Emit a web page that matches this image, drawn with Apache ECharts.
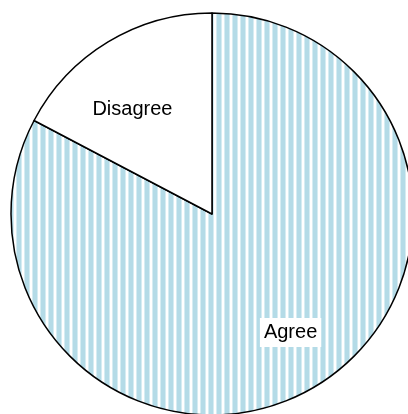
<!DOCTYPE html>
<html>
<head>
<meta charset="utf-8">
<script src="https://cdn.jsdelivr.net/npm/echarts@6/dist/echarts.min.js"></script>
<style>html,body{margin:0;padding:0;background:#fff}#c{width:408px;height:414px}</style>
</head>
<body>
<div id="c"></div>
<script>
const categories = ['Agree', 'Disagree'];
const values = [82.7, 17.3];

function stripePattern() {
  const c = document.createElement('canvas');
  c.width = 8; c.height = 4;
  const ctx = c.getContext('2d');
  ctx.fillStyle = '#ffffff';
  ctx.fillRect(0, 0, 8, 4);
  ctx.fillStyle = '#b4dbe7';
  ctx.fillRect(1, 0, 4, 4);
  ctx.fillStyle = '#d6ecf2';
  ctx.fillRect(0, 0, 1, 4);
  ctx.fillRect(5, 0, 1, 4);
  return c;
}
const pat = { image: stripePattern(), repeat: 'repeat' };
const fills = [pat, '#ffffff'];
const labelNudges = [[-2, 4], [1, 10]];

const data = categories.map((n, i) => ({ name: n, value: values[i], itemStyle: { color: fills[i] } }));
const labelData = categories.map((n, i) => ({ name: n, value: values[i], label: { offset: labelNudges[i] } }));

const chart = echarts.init(document.getElementById('c'), null, { renderer: 'canvas' });
chart.setOption({
  animation: false,
  series: [
    {
      type: 'pie',
      center: [212, 214],
      radius: [0, 201],
      startAngle: 90,
      clockwise: true,
      data: data,
      itemStyle: { borderColor: '#000', borderWidth: 1.5 },
      label: { show: false },
      labelLine: { show: false },
      emphasis: { disabled: true }
    },
    {
      type: 'pie',
      center: [212, 214],
      radius: [73, 201],
      startAngle: 94,
      clockwise: true,
      silent: true,
      data: labelData,
      itemStyle: { color: 'rgba(0,0,0,0)', borderWidth: 0 },
      label: {
        show: true, position: 'inside', formatter: '{b}',
        color: '#000', fontSize: 20, fontFamily: 'Liberation Sans, Arial, sans-serif',
        backgroundColor: '#fff', padding: [5, 4, 4, 4]
      },
      labelLine: { show: false },
      emphasis: { disabled: true }
    }
  ]
});
</script>
</body>
</html>
